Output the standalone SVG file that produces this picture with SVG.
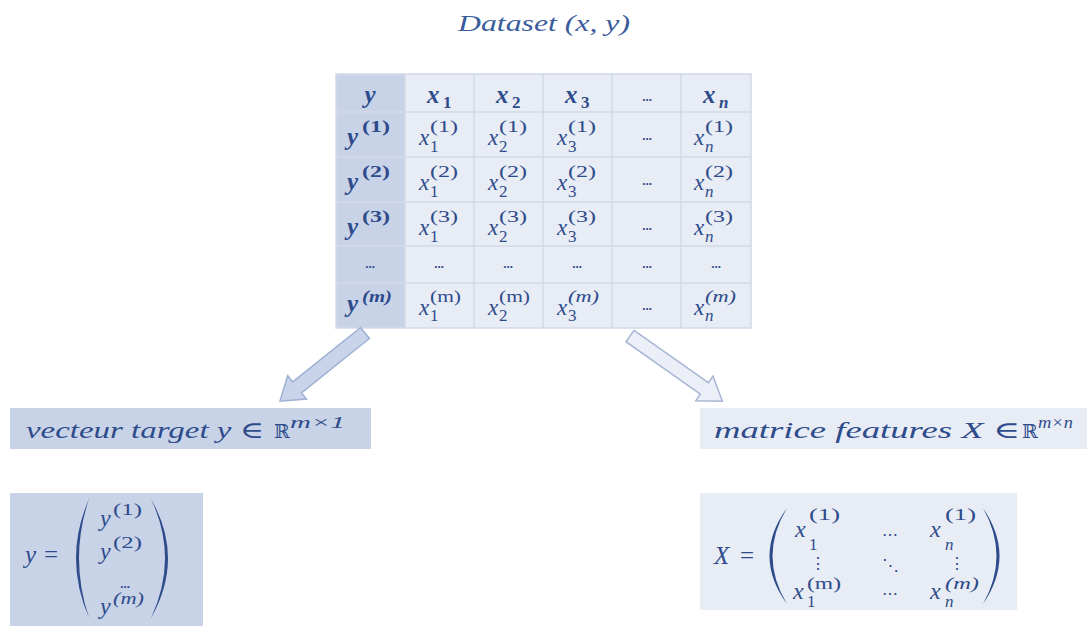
<svg xmlns="http://www.w3.org/2000/svg" width="1087" height="626" viewBox="0 0 1087 626">
<style>
.m{font-family:"Liberation Serif","DejaVu Serif",serif;fill:#2e4b8b}
.i{font-style:italic}
.b{font-weight:bold}
.base{font-size:23px}
.sup{font-size:17px}
.dots{font-size:13px;text-anchor:middle;font-weight:bold}
.c1{fill:#c9d3e8}
.c2{fill:#e8ecf5}
.grid{stroke:#d3d9e8;stroke-width:1.5;fill:none}
.lbl{font-size:23px}
</style>
<rect width="1087" height="626" fill="#ffffff"/>
<g id="title">
<text class="m i" x="458" y="31" font-size="23" textLength="172" lengthAdjust="spacingAndGlyphs" style="fill:#3b5c9c">Dataset (x, y)</text>
</g>
<g id="dataset-table">
<rect class="c1" x="336" y="74" width="69" height="254"/>
<rect class="c2" x="405" y="74" width="346" height="254"/>
<g class="grid">
<rect x="336" y="74" width="415" height="254"/>
<path d="M405 74V328M474 74V328M543 74V328M612 74V328M681 74V328M336 112H751M336 157H751M336 202H751M336 246H751M336 283H751"/>
</g>
<!-- header row -->
<text class="m i b" x="370" y="103" font-size="25" text-anchor="middle">y</text>
<text class="m i b" x="427" y="103" font-size="25">x</text><text class="m b sup" x="443" y="108">1</text>
<text class="m i b" x="496" y="103" font-size="25">x</text><text class="m b sup" x="512" y="108">2</text>
<text class="m i b" x="565" y="103" font-size="25">x</text><text class="m b sup" x="581" y="108">3</text>
<text class="m dots" x="647" y="101">...</text>
<text class="m i b" x="703" y="103" font-size="25">x</text><text class="m i b sup" x="719" y="108">n</text>
<!-- row 1 -->
<text class="m i b" x="347" y="145" font-size="25">y</text><text class="m b sup" x="362" y="132" textLength="28" lengthAdjust="spacingAndGlyphs">(1)</text>
<text class="m i base" x="419" y="145">x</text><text class="m sup" x="430" y="132" textLength="28" lengthAdjust="spacingAndGlyphs">(1)</text><text class="m sup" x="430" y="152">1</text>
<text class="m i base" x="488" y="145">x</text><text class="m sup" x="499" y="132" textLength="28" lengthAdjust="spacingAndGlyphs">(1)</text><text class="m sup" x="499" y="152">2</text>
<text class="m i base" x="557" y="145">x</text><text class="m sup" x="568" y="132" textLength="28" lengthAdjust="spacingAndGlyphs">(1)</text><text class="m sup" x="568" y="152">3</text>
<text class="m dots" x="647" y="140">...</text>
<text class="m i base" x="694" y="145">x</text><text class="m sup" x="705" y="132" textLength="28" lengthAdjust="spacingAndGlyphs">(1)</text><text class="m i sup" x="705" y="152">n</text>
<!-- row 2 -->
<text class="m i b" x="347" y="190" font-size="25">y</text><text class="m b sup" x="362" y="177" textLength="28" lengthAdjust="spacingAndGlyphs">(2)</text>
<text class="m i base" x="419" y="190">x</text><text class="m sup" x="430" y="177" textLength="28" lengthAdjust="spacingAndGlyphs">(2)</text><text class="m sup" x="430" y="197">1</text>
<text class="m i base" x="488" y="190">x</text><text class="m sup" x="499" y="177" textLength="28" lengthAdjust="spacingAndGlyphs">(2)</text><text class="m sup" x="499" y="197">2</text>
<text class="m i base" x="557" y="190">x</text><text class="m sup" x="568" y="177" textLength="28" lengthAdjust="spacingAndGlyphs">(2)</text><text class="m sup" x="568" y="197">3</text>
<text class="m dots" x="647" y="185">...</text>
<text class="m i base" x="694" y="190">x</text><text class="m sup" x="705" y="177" textLength="28" lengthAdjust="spacingAndGlyphs">(2)</text><text class="m i sup" x="705" y="197">n</text>
<!-- row 3 -->
<text class="m i b" x="347" y="235" font-size="25">y</text><text class="m b sup" x="362" y="222" textLength="28" lengthAdjust="spacingAndGlyphs">(3)</text>
<text class="m i base" x="419" y="235">x</text><text class="m sup" x="430" y="222" textLength="28" lengthAdjust="spacingAndGlyphs">(3)</text><text class="m sup" x="430" y="242">1</text>
<text class="m i base" x="488" y="235">x</text><text class="m sup" x="499" y="222" textLength="28" lengthAdjust="spacingAndGlyphs">(3)</text><text class="m sup" x="499" y="242">2</text>
<text class="m i base" x="557" y="235">x</text><text class="m sup" x="568" y="222" textLength="28" lengthAdjust="spacingAndGlyphs">(3)</text><text class="m sup" x="568" y="242">3</text>
<text class="m dots" x="647" y="230">...</text>
<text class="m i base" x="694" y="235">x</text><text class="m sup" x="705" y="222" textLength="28" lengthAdjust="spacingAndGlyphs">(3)</text><text class="m i sup" x="705" y="242">n</text>
<!-- row dots -->
<text class="m dots" x="370" y="268">...</text>
<text class="m dots" x="439" y="268">...</text>
<text class="m dots" x="508" y="268">...</text>
<text class="m dots" x="577" y="268">...</text>
<text class="m dots" x="647" y="268">...</text>
<text class="m dots" x="716" y="268">...</text>
<!-- row m -->
<text class="m i b" x="347" y="312" font-size="25">y</text><text class="m b i sup" x="362" y="302" textLength="30" lengthAdjust="spacingAndGlyphs">(m)</text>
<text class="m i base" x="419" y="315">x</text><text class="m sup" x="430" y="302" textLength="31" lengthAdjust="spacingAndGlyphs">(m)</text><text class="m sup" x="430" y="321">1</text>
<text class="m i base" x="488" y="315">x</text><text class="m sup" x="499" y="302" textLength="31" lengthAdjust="spacingAndGlyphs">(m)</text><text class="m sup" x="499" y="321">2</text>
<text class="m i base" x="557" y="315">x</text><text class="m i sup" x="568" y="302" textLength="31" lengthAdjust="spacingAndGlyphs">(m)</text><text class="m sup" x="568" y="321">3</text>
<text class="m dots" x="647" y="310">...</text>
<text class="m i base" x="694" y="315">x</text><text class="m i sup" x="705" y="302" textLength="31" lengthAdjust="spacingAndGlyphs">(m)</text><text class="m i sup" x="705" y="321">n</text>
</g>
<g id="connectors">
<polygon transform="translate(365,333) rotate(141.3)" points="0,-7 87,-7 87,-15 109,0 87,15 87,7 0,7" fill="#c9d4ea" stroke="#9fb1d3" stroke-width="1.5" stroke-linejoin="miter"/>
<polygon transform="translate(630,336) rotate(35.2)" points="0,-7 91,-7 91,-15 113,0 91,15 91,7 0,7" fill="#eceff7" stroke="#a9b7d5" stroke-width="1.5" stroke-linejoin="miter"/>
</g>
<g id="label-target">
<rect x="10" y="408" width="361" height="41" fill="#c9d3e8"/>
<text class="m i lbl" x="26" y="438" textLength="238" lengthAdjust="spacingAndGlyphs">vecteur target y ∈</text>
<text class="m" x="274" y="438" font-size="19">ℝ</text>
<text class="m i sup" x="290" y="428" textLength="55" lengthAdjust="spacingAndGlyphs">m×1</text>
</g>
<g id="label-features">
<rect x="700" y="408" width="387" height="41" fill="#e8ecf5"/>
<text class="m i lbl" x="714" y="438" textLength="306" lengthAdjust="spacingAndGlyphs">matrice features X ∈</text>
<text class="m" x="1022" y="438" font-size="19">ℝ</text>
<text class="m i sup" x="1038" y="428" textLength="35" lengthAdjust="spacingAndGlyphs">m×n</text>
</g>
<g id="vector-y">
<rect x="10" y="493" width="193" height="133" fill="#c9d3e8"/>
<text class="m i" x="25" y="563" font-size="25">y</text>
<text class="m" x="44" y="563" font-size="25">=</text>
<path d="M89 499Q63 558 89 618Q69 558 89 499Z" fill="#2e4b8b"/>
<path d="M151 499Q185 558 151 618Q179 558 151 499Z" fill="#2e4b8b"/>
<text class="m i" x="100" y="526" font-size="24">y</text><text class="m sup" x="113" y="515" textLength="29" lengthAdjust="spacingAndGlyphs">(1)</text>
<text class="m i" x="100" y="559" font-size="24">y</text><text class="m sup" x="113" y="548" textLength="29" lengthAdjust="spacingAndGlyphs">(2)</text>
<text class="m dots" x="125" y="588">...</text>
<text class="m i" x="100" y="614" font-size="24">y</text><text class="m i sup" x="113" y="604" textLength="31" lengthAdjust="spacingAndGlyphs">(m)</text>
</g>
<g id="matrix-X">
<rect x="700" y="493" width="317" height="117" fill="#e8ecf5"/>
<text class="m i" x="714" y="564" font-size="25">X</text>
<text class="m" x="740" y="564" font-size="25">=</text>
<path d="M787 508Q752 556 787 604Q758 556 787 508Z" fill="#2e4b8b"/>
<path d="M983 508Q1016 556 983 604Q1010 556 983 508Z" fill="#2e4b8b"/>
<text class="m i" x="795" y="537" font-size="24">x</text><text class="m sup" x="809" y="520" textLength="31" lengthAdjust="spacingAndGlyphs">(1)</text><text class="m sup" x="809" y="550">1</text>
<text class="m" x="890" y="540" font-size="16" text-anchor="middle">⋯</text>
<text class="m i" x="930" y="537" font-size="24">x</text><text class="m sup" x="945" y="520" textLength="31" lengthAdjust="spacingAndGlyphs">(1)</text><text class="m i sup" x="945" y="550">n</text>
<text class="m" x="818" y="569" font-size="16" text-anchor="middle">⋮</text>
<text class="m" x="890" y="571" font-size="17" text-anchor="middle">⋱</text>
<text class="m" x="957" y="569" font-size="16" text-anchor="middle">⋮</text>
<text class="m i" x="793" y="599" font-size="24">x</text><text class="m sup" x="807" y="589" textLength="34" lengthAdjust="spacingAndGlyphs">(m)</text><text class="m sup" x="807" y="607">1</text>
<text class="m" x="890" y="599" font-size="16" text-anchor="middle">⋯</text>
<text class="m i" x="930" y="599" font-size="24">x</text><text class="m i sup" x="945" y="589" textLength="34" lengthAdjust="spacingAndGlyphs">(m)</text><text class="m i sup" x="945" y="607">n</text>
</g>
</svg>
